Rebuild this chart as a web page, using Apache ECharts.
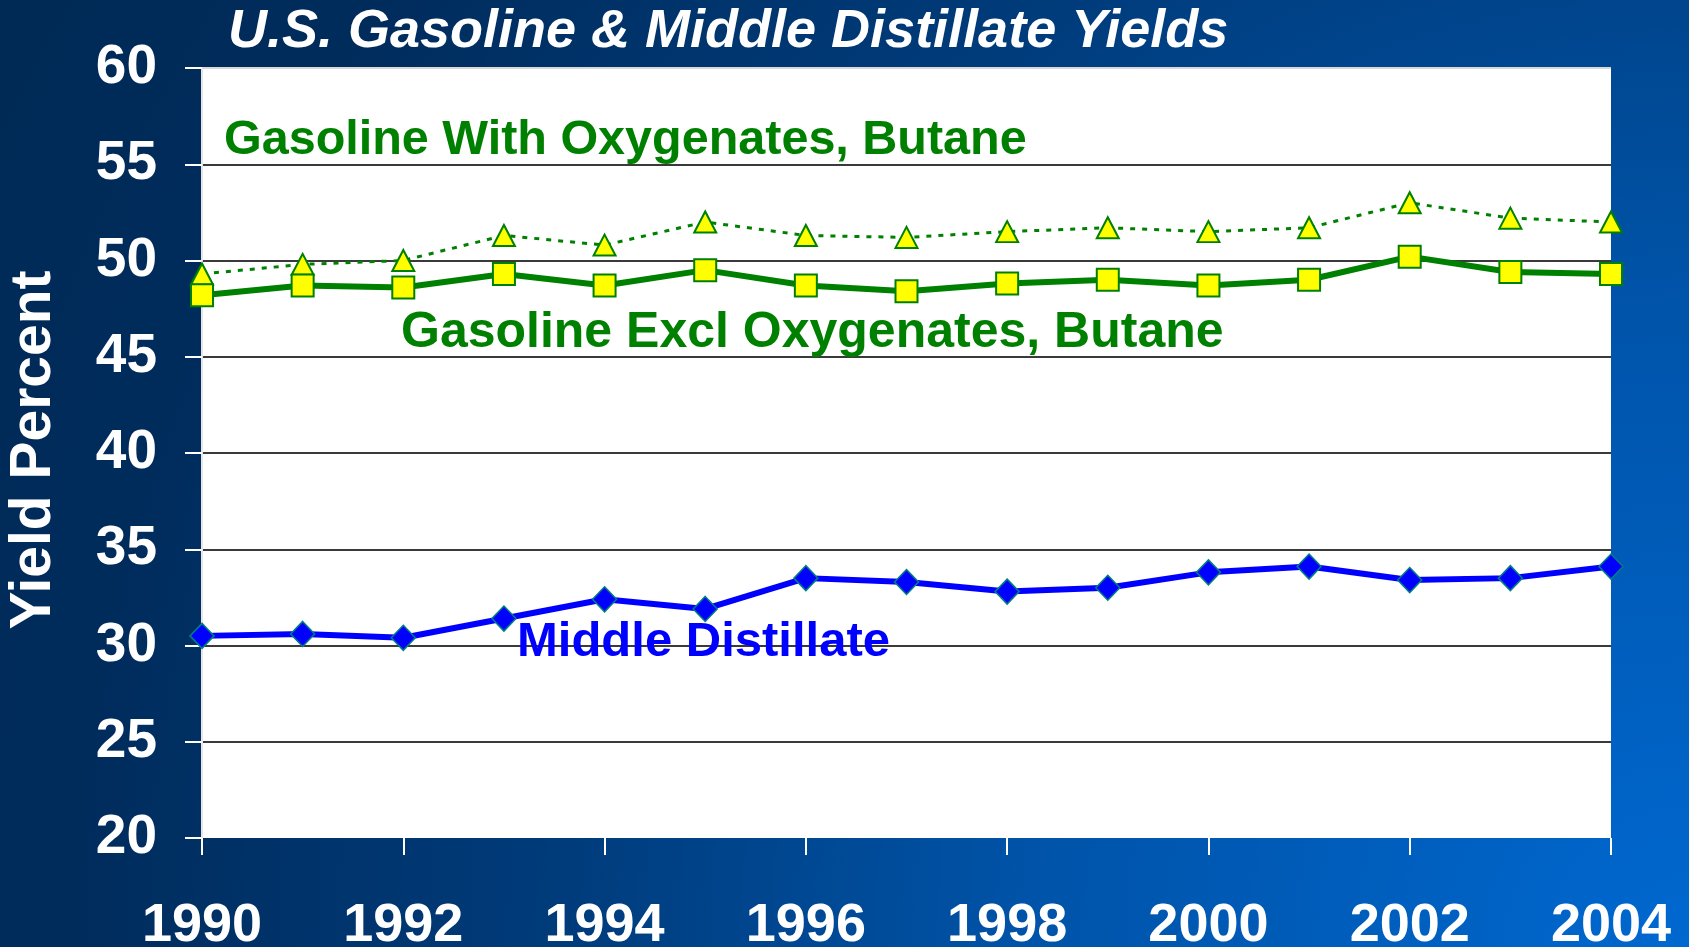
<!DOCTYPE html>
<html>
<head>
<meta charset="utf-8">
<script src="https://cdn.jsdelivr.net/npm/echarts@6/dist/echarts.min.js"></script>
<style>
  html, body { margin: 0; padding: 0; }
  #chart { width: 1689px; height: 947px; }
</style>
</head>
<body>
<div id="chart"></div>
<script>
const years = ["1990", "1991", "1992", "1993", "1994", "1995", "1996", "1997",
  "1998", "1999", "2000", "2001", "2002", "2003", "2004"];
const gasWithOxy = [49.3, 49.8, 50.0, 51.3, 50.8, 52.0, 51.3, 51.2, 51.5, 51.7, 51.5, 51.7, 53.0, 52.2, 52.0];
const gasExclOxy = [48.2, 48.7, 48.6, 49.3, 48.7, 49.5, 48.7, 48.4, 48.8, 49.0, 48.7, 49.0, 50.2, 49.4, 49.3];
const midDist = [30.5, 30.6, 30.4, 31.4, 32.4, 31.9, 33.5, 33.3, 32.8, 33.0, 33.8, 34.1, 33.4, 33.5, 34.1];

const FONT = '"Liberation Sans", Arial, sans-serif';
const GREEN = "#008000";

const chart = echarts.init(document.getElementById("chart"));

const options = {
  backgroundColor: {
    type: "radial",
    x: 1689, y: 947, r: 1900, global: true,
    colorStops: [
      { offset: 0, color: "#0068d0" },
      { offset: 0.35, color: "#0053a8" },
      { offset: 0.6, color: "#003b7a" },
      { offset: 0.85, color: "#002c5c" },
      { offset: 1, color: "#002a56" },
    ],
  },
  animation: false,
  title: {
    text: "U.S. Gasoline & Middle Distillate Yields",
    left: 228,
    top: 5,
    padding: 0,
    textStyle: {
      color: "#fff",
      fontFamily: FONT,
      fontSize: 54,
      fontWeight: "bold",
      fontStyle: "italic",
      lineHeight: 54,
    },
  },
  grid: {
    left: 202,
    right: 78,
    top: 68,
    bottom: 109,
    outerBoundsMode: "none", // 不让标签挤压绘图区
    show: true,
    backgroundColor: "#fff",
    borderWidth: 0,
  },
  xAxis: {
    type: "category",
    data: years,
    boundaryGap: false, // 1990 / 2004 落在边上
    axisLine: { show: false },
    axisTick: {
      show: true,
      interval: 1,
      length: 17,
      lineStyle: { color: "#fff", width: 2 },
    },
    axisLabel: {
      interval: 1,
      margin: 61,
      color: "#fff",
      fontFamily: FONT,
      fontSize: 54,
      fontWeight: "bold",
      lineHeight: 54,
    },
    splitLine: { show: false },
  },
  yAxis: {
    type: "value",
    min: 20,
    max: 60,
    interval: 5,
    axisLine: { show: true, lineStyle: { color: "#e6e6e6", width: 2 } },
    axisTick: { show: true, length: 17, lineStyle: { color: "#fff", width: 2 } },
    axisLabel: {
      margin: 45,
      color: "#fff",
      fontFamily: FONT,
      fontSize: 55,
      fontWeight: "bold",
    },
    splitLine: {
      show: true,
      lineStyle: {
        width: 2,
        color: ["rgba(0,0,0,0)", "#3a3a3a", "#3a3a3a", "#3a3a3a", "#3a3a3a",
          "#3a3a3a", "#3a3a3a", "#3a3a3a", "#d8d8d8"],
      },
    },
  },
  graphic: [
    {
      type: "text", x: 34, y: 450, rotation: Math.PI / 2,
      style: {
        text: "Yield Percent", fill: "#fff", font: `bold 57px ${FONT}`,
        align: "center", verticalAlign: "middle",
      },
    },
    {
      type: "text", x: 224, y: 141, z: 10,
      style: {
        text: "Gasoline With Oxygenates, Butane", fill: GREEN, font: `bold 48.5px ${FONT}`,
        align: "left", verticalAlign: "middle",
      },
    },
    {
      type: "text", x: 401, y: 333, z: 10,
      style: {
        text: "Gasoline Excl Oxygenates, Butane", fill: GREEN, font: `bold 50px ${FONT}`,
        align: "left", verticalAlign: "middle",
      },
    },
    {
      type: "text", x: 517, y: 642, z: 10,
      style: {
        text: "Middle Distillate", fill: "#0000ff", font: `bold 49px ${FONT}`,
        align: "left", verticalAlign: "middle",
      },
    },
  ],
  series: [
    {
      name: "Gasoline With Oxygenates, Butane",
      type: "line",
      data: gasWithOxy,
      symbol: "triangle",
      symbolSize: [22, 21],
      lineStyle: { color: GREEN, width: 3, type: [5, 7] },
      itemStyle: { color: "#ffff00", borderColor: GREEN, borderWidth: 2 },
    },
    {
      name: "Gasoline Excl Oxygenates, Butane",
      type: "line",
      data: gasExclOxy,
      symbol: "rect",
      symbolSize: 22,
      lineStyle: { color: GREEN, width: 6 },
      itemStyle: { color: "#ffff00", borderColor: GREEN, borderWidth: 2 },
    },
    {
      name: "Middle Distillate",
      type: "line",
      data: midDist,
      symbol: "diamond",
      symbolSize: [24, 25],
      lineStyle: { color: "#0000ff", width: 6 },
      itemStyle: { color: "#0000ff", borderColor: "#008080", borderWidth: 1.5 },
    },
  ],
};

chart.setOption(options);
window.addEventListener("resize", () => chart.resize());
</script>
</body>
</html>
